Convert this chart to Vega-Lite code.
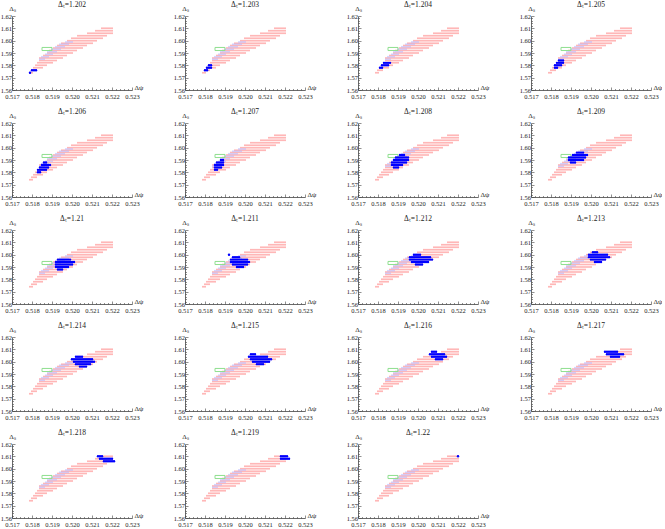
{
"$schema":"https://vega.github.io/schema/vega-lite/v6.json",
"padding":0,
"background":"white",
"columns":4,
"spacing":{"row":33,"column":53},
"bounds":"flush",
"datasets":{
"box":[{"p1":0.5185,"p2":0.519,"s1":1.592,"s2":1.5945}],
"pink":[
{"p":0.5179,"s":1.574},{"p":0.518,"s":1.574},
{"p":0.518,"s":1.576},{"p":0.5181,"s":1.576},{"p":0.5182,"s":1.576},
{"p":0.5181,"s":1.578},{"p":0.5182,"s":1.578},{"p":0.5183,"s":1.578},{"p":0.5184,"s":1.578},{"p":0.5185,"s":1.578},
{"p":0.5182,"s":1.58},{"p":0.5183,"s":1.58},{"p":0.5184,"s":1.58},{"p":0.5185,"s":1.58},{"p":0.5186,"s":1.58},{"p":0.5187,"s":1.58},
{"p":0.5183,"s":1.582},{"p":0.5184,"s":1.582},{"p":0.5185,"s":1.582},{"p":0.5186,"s":1.582},{"p":0.5187,"s":1.582},{"p":0.5188,"s":1.582},{"p":0.5189,"s":1.582},{"p":0.519,"s":1.582},
{"p":0.5184,"s":1.584},{"p":0.5185,"s":1.584},{"p":0.5186,"s":1.584},{"p":0.5187,"s":1.584},{"p":0.5188,"s":1.584},{"p":0.5189,"s":1.584},{"p":0.519,"s":1.584},{"p":0.5191,"s":1.584},{"p":0.5192,"s":1.584},
{"p":0.5184,"s":1.586},{"p":0.5185,"s":1.586},{"p":0.5186,"s":1.586},{"p":0.5187,"s":1.586},{"p":0.5188,"s":1.586},{"p":0.5189,"s":1.586},{"p":0.519,"s":1.586},{"p":0.5191,"s":1.586},{"p":0.5192,"s":1.586},{"p":0.5193,"s":1.586},{"p":0.5194,"s":1.586},{"p":0.5195,"s":1.586},
{"p":0.5186,"s":1.588},{"p":0.5187,"s":1.588},{"p":0.5188,"s":1.588},{"p":0.5189,"s":1.588},{"p":0.519,"s":1.588},{"p":0.5191,"s":1.588},{"p":0.5192,"s":1.588},{"p":0.5193,"s":1.588},{"p":0.5194,"s":1.588},{"p":0.5195,"s":1.588},{"p":0.5196,"s":1.588},{"p":0.5197,"s":1.588},
{"p":0.5188,"s":1.59},{"p":0.5189,"s":1.59},{"p":0.519,"s":1.59},{"p":0.5191,"s":1.59},{"p":0.5192,"s":1.59},{"p":0.5193,"s":1.59},{"p":0.5194,"s":1.59},{"p":0.5195,"s":1.59},{"p":0.5196,"s":1.59},{"p":0.5197,"s":1.59},{"p":0.5198,"s":1.59},{"p":0.5199,"s":1.59},{"p":0.52,"s":1.59},
{"p":0.5189,"s":1.592},{"p":0.519,"s":1.592},{"p":0.5191,"s":1.592},{"p":0.5192,"s":1.592},{"p":0.5193,"s":1.592},{"p":0.5194,"s":1.592},{"p":0.5195,"s":1.592},{"p":0.5196,"s":1.592},{"p":0.5197,"s":1.592},{"p":0.5198,"s":1.592},{"p":0.5199,"s":1.592},{"p":0.52,"s":1.592},{"p":0.5201,"s":1.592},{"p":0.5202,"s":1.592},
{"p":0.5191,"s":1.594},{"p":0.5192,"s":1.594},{"p":0.5193,"s":1.594},{"p":0.5194,"s":1.594},{"p":0.5195,"s":1.594},{"p":0.5196,"s":1.594},{"p":0.5197,"s":1.594},{"p":0.5198,"s":1.594},{"p":0.5199,"s":1.594},{"p":0.52,"s":1.594},{"p":0.5201,"s":1.594},{"p":0.5202,"s":1.594},{"p":0.5203,"s":1.594},{"p":0.5204,"s":1.594},{"p":0.5205,"s":1.594},
{"p":0.5193,"s":1.596},{"p":0.5194,"s":1.596},{"p":0.5195,"s":1.596},{"p":0.5196,"s":1.596},{"p":0.5197,"s":1.596},{"p":0.5198,"s":1.596},{"p":0.5199,"s":1.596},{"p":0.52,"s":1.596},{"p":0.5201,"s":1.596},{"p":0.5202,"s":1.596},{"p":0.5203,"s":1.596},{"p":0.5204,"s":1.596},{"p":0.5205,"s":1.596},{"p":0.5206,"s":1.596},{"p":0.5207,"s":1.596},
{"p":0.5195,"s":1.598},{"p":0.5196,"s":1.598},{"p":0.5197,"s":1.598},{"p":0.5198,"s":1.598},{"p":0.5199,"s":1.598},{"p":0.52,"s":1.598},{"p":0.5201,"s":1.598},{"p":0.5202,"s":1.598},{"p":0.5203,"s":1.598},{"p":0.5204,"s":1.598},{"p":0.5205,"s":1.598},{"p":0.5206,"s":1.598},{"p":0.5207,"s":1.598},{"p":0.5208,"s":1.598},{"p":0.5209,"s":1.598},{"p":0.521,"s":1.598},
{"p":0.5198,"s":1.6},{"p":0.5199,"s":1.6},{"p":0.52,"s":1.6},{"p":0.5201,"s":1.6},{"p":0.5202,"s":1.6},{"p":0.5203,"s":1.6},{"p":0.5204,"s":1.6},{"p":0.5205,"s":1.6},{"p":0.5206,"s":1.6},{"p":0.5207,"s":1.6},{"p":0.5208,"s":1.6},{"p":0.5209,"s":1.6},{"p":0.521,"s":1.6},{"p":0.5211,"s":1.6},{"p":0.5212,"s":1.6},
{"p":0.52,"s":1.602},{"p":0.5201,"s":1.602},{"p":0.5202,"s":1.602},{"p":0.5203,"s":1.602},{"p":0.5204,"s":1.602},{"p":0.5205,"s":1.602},{"p":0.5206,"s":1.602},{"p":0.5207,"s":1.602},{"p":0.5208,"s":1.602},{"p":0.5209,"s":1.602},{"p":0.521,"s":1.602},{"p":0.5211,"s":1.602},{"p":0.5212,"s":1.602},{"p":0.5213,"s":1.602},{"p":0.5214,"s":1.602},{"p":0.5215,"s":1.602},
{"p":0.5203,"s":1.604},{"p":0.5204,"s":1.604},{"p":0.5205,"s":1.604},{"p":0.5206,"s":1.604},{"p":0.5207,"s":1.604},{"p":0.5208,"s":1.604},{"p":0.5209,"s":1.604},{"p":0.521,"s":1.604},{"p":0.5211,"s":1.604},{"p":0.5212,"s":1.604},{"p":0.5213,"s":1.604},{"p":0.5214,"s":1.604},{"p":0.5215,"s":1.604},{"p":0.5216,"s":1.604},{"p":0.5217,"s":1.604},
{"p":0.5208,"s":1.606},{"p":0.5209,"s":1.606},{"p":0.521,"s":1.606},{"p":0.5211,"s":1.606},{"p":0.5212,"s":1.606},{"p":0.5213,"s":1.606},{"p":0.5214,"s":1.606},{"p":0.5215,"s":1.606},{"p":0.5216,"s":1.606},{"p":0.5217,"s":1.606},{"p":0.5218,"s":1.606},{"p":0.5219,"s":1.606},{"p":0.522,"s":1.606},
{"p":0.5212,"s":1.608},{"p":0.5213,"s":1.608},{"p":0.5214,"s":1.608},{"p":0.5215,"s":1.608},{"p":0.5216,"s":1.608},{"p":0.5217,"s":1.608},{"p":0.5218,"s":1.608},{"p":0.5219,"s":1.608},{"p":0.522,"s":1.608},
{"p":0.5215,"s":1.61},{"p":0.5216,"s":1.61},{"p":0.5217,"s":1.61},{"p":0.5218,"s":1.61},{"p":0.5219,"s":1.61},{"p":0.522,"s":1.61}
],
"lav":[
{"p":0.5184,"s":1.585},{"p":0.5185,"s":1.585},{"p":0.5186,"s":1.585},
{"p":0.5185,"s":1.587},{"p":0.5186,"s":1.587},{"p":0.5187,"s":1.587},{"p":0.5188,"s":1.587},
{"p":0.5187,"s":1.589},{"p":0.5188,"s":1.589},{"p":0.5189,"s":1.589},{"p":0.519,"s":1.589},
{"p":0.5188,"s":1.591},{"p":0.5189,"s":1.591},{"p":0.519,"s":1.591},{"p":0.5191,"s":1.591},{"p":0.5192,"s":1.591},
{"p":0.519,"s":1.593},{"p":0.5191,"s":1.593},{"p":0.5192,"s":1.593},{"p":0.5193,"s":1.593},{"p":0.5194,"s":1.593},
{"p":0.5192,"s":1.595},{"p":0.5193,"s":1.595},{"p":0.5194,"s":1.595},{"p":0.5195,"s":1.595},{"p":0.5196,"s":1.595},
{"p":0.5194,"s":1.597},{"p":0.5195,"s":1.597},{"p":0.5196,"s":1.597},{"p":0.5197,"s":1.597},{"p":0.5198,"s":1.597},
{"p":0.5197,"s":1.599},{"p":0.5198,"s":1.599},{"p":0.5199,"s":1.599},{"p":0.52,"s":1.599}
],
"blue":[
{"t":1.202,"p":0.5179,"s":1.574},{"t":1.202,"p":0.518,"s":1.576},{"t":1.202,"p":0.5181,"s":1.576},{"t":1.202,"p":0.5182,"s":1.576},
{"t":1.203,"p":0.518,"s":1.576},{"t":1.203,"p":0.5181,"s":1.576},{"t":1.203,"p":0.5181,"s":1.578},{"t":1.203,"p":0.5182,"s":1.578},{"t":1.203,"p":0.5183,"s":1.578},{"t":1.203,"p":0.5182,"s":1.58},{"t":1.203,"p":0.5183,"s":1.58},
{"t":1.204,"p":0.5181,"s":1.578},{"t":1.204,"p":0.5182,"s":1.578},{"t":1.204,"p":0.5182,"s":1.58},{"t":1.204,"p":0.5183,"s":1.58},{"t":1.204,"p":0.5184,"s":1.58},{"t":1.204,"p":0.5185,"s":1.58},{"t":1.204,"p":0.5183,"s":1.582},{"t":1.204,"p":0.5184,"s":1.582},{"t":1.204,"p":0.5185,"s":1.582},{"t":1.204,"p":0.5186,"s":1.582},
{"t":1.205,"p":0.5182,"s":1.578},{"t":1.205,"p":0.5183,"s":1.578},{"t":1.205,"p":0.5182,"s":1.58},{"t":1.205,"p":0.5183,"s":1.58},{"t":1.205,"p":0.5184,"s":1.58},{"t":1.205,"p":0.5185,"s":1.58},{"t":1.205,"p":0.5183,"s":1.582},{"t":1.205,"p":0.5184,"s":1.582},{"t":1.205,"p":0.5185,"s":1.582},{"t":1.205,"p":0.5186,"s":1.582},{"t":1.205,"p":0.5184,"s":1.584},{"t":1.205,"p":0.5185,"s":1.584},{"t":1.205,"p":0.5186,"s":1.584},
{"t":1.206,"p":0.5183,"s":1.58},{"t":1.206,"p":0.5184,"s":1.58},{"t":1.206,"p":0.5183,"s":1.582},{"t":1.206,"p":0.5184,"s":1.582},{"t":1.206,"p":0.5185,"s":1.582},{"t":1.206,"p":0.5186,"s":1.582},{"t":1.206,"p":0.5187,"s":1.582},{"t":1.206,"p":0.5184,"s":1.584},{"t":1.206,"p":0.5185,"s":1.584},{"t":1.206,"p":0.5186,"s":1.584},{"t":1.206,"p":0.5187,"s":1.584},{"t":1.206,"p":0.5188,"s":1.584},{"t":1.206,"p":0.5185,"s":1.586},{"t":1.206,"p":0.5186,"s":1.586},{"t":1.206,"p":0.5187,"s":1.586},{"t":1.206,"p":0.5188,"s":1.586},{"t":1.206,"p":0.5189,"s":1.586},{"t":1.206,"p":0.5186,"s":1.588},{"t":1.206,"p":0.5187,"s":1.588},
{"t":1.207,"p":0.5185,"s":1.582},{"t":1.207,"p":0.5186,"s":1.582},{"t":1.207,"p":0.5185,"s":1.584},{"t":1.207,"p":0.5186,"s":1.584},{"t":1.207,"p":0.5187,"s":1.584},{"t":1.207,"p":0.5188,"s":1.584},{"t":1.207,"p":0.5185,"s":1.586},{"t":1.207,"p":0.5186,"s":1.586},{"t":1.207,"p":0.5187,"s":1.586},{"t":1.207,"p":0.5188,"s":1.586},{"t":1.207,"p":0.5189,"s":1.586},{"t":1.207,"p":0.5186,"s":1.588},{"t":1.207,"p":0.5187,"s":1.588},{"t":1.207,"p":0.5188,"s":1.588},{"t":1.207,"p":0.5189,"s":1.588},{"t":1.207,"p":0.5188,"s":1.59},{"t":1.207,"p":0.5189,"s":1.59},
{"t":1.208,"p":0.5188,"s":1.584},{"t":1.208,"p":0.5189,"s":1.584},{"t":1.208,"p":0.519,"s":1.584},{"t":1.208,"p":0.5187,"s":1.586},{"t":1.208,"p":0.5188,"s":1.586},{"t":1.208,"p":0.5189,"s":1.586},{"t":1.208,"p":0.519,"s":1.586},{"t":1.208,"p":0.5191,"s":1.586},{"t":1.208,"p":0.5192,"s":1.586},{"t":1.208,"p":0.5187,"s":1.588},{"t":1.208,"p":0.5188,"s":1.588},{"t":1.208,"p":0.5189,"s":1.588},{"t":1.208,"p":0.519,"s":1.588},{"t":1.208,"p":0.5191,"s":1.588},{"t":1.208,"p":0.5192,"s":1.588},{"t":1.208,"p":0.5193,"s":1.588},{"t":1.208,"p":0.5194,"s":1.588},{"t":1.208,"p":0.5188,"s":1.59},{"t":1.208,"p":0.5189,"s":1.59},{"t":1.208,"p":0.519,"s":1.59},{"t":1.208,"p":0.5191,"s":1.59},{"t":1.208,"p":0.5192,"s":1.59},{"t":1.208,"p":0.5193,"s":1.59},{"t":1.208,"p":0.5194,"s":1.59},{"t":1.208,"p":0.5195,"s":1.59},{"t":1.208,"p":0.5189,"s":1.592},{"t":1.208,"p":0.519,"s":1.592},{"t":1.208,"p":0.5191,"s":1.592},{"t":1.208,"p":0.5192,"s":1.592},{"t":1.208,"p":0.5193,"s":1.592},{"t":1.208,"p":0.5194,"s":1.592},{"t":1.208,"p":0.5195,"s":1.592},{"t":1.208,"p":0.5191,"s":1.594},{"t":1.208,"p":0.5192,"s":1.594},{"t":1.208,"p":0.5193,"s":1.594},
{"t":1.209,"p":0.519,"s":1.588},{"t":1.209,"p":0.5191,"s":1.588},{"t":1.209,"p":0.5192,"s":1.588},{"t":1.209,"p":0.5189,"s":1.59},{"t":1.209,"p":0.519,"s":1.59},{"t":1.209,"p":0.5191,"s":1.59},{"t":1.209,"p":0.5192,"s":1.59},{"t":1.209,"p":0.5193,"s":1.59},{"t":1.209,"p":0.5194,"s":1.59},{"t":1.209,"p":0.5195,"s":1.59},{"t":1.209,"p":0.5196,"s":1.59},{"t":1.209,"p":0.5189,"s":1.592},{"t":1.209,"p":0.519,"s":1.592},{"t":1.209,"p":0.5191,"s":1.592},{"t":1.209,"p":0.5192,"s":1.592},{"t":1.209,"p":0.5193,"s":1.592},{"t":1.209,"p":0.5194,"s":1.592},{"t":1.209,"p":0.5195,"s":1.592},{"t":1.209,"p":0.5196,"s":1.592},{"t":1.209,"p":0.5197,"s":1.592},{"t":1.209,"p":0.5191,"s":1.594},{"t":1.209,"p":0.5192,"s":1.594},{"t":1.209,"p":0.5193,"s":1.594},{"t":1.209,"p":0.5194,"s":1.594},{"t":1.209,"p":0.5195,"s":1.594},{"t":1.209,"p":0.5196,"s":1.594},{"t":1.209,"p":0.5197,"s":1.594},{"t":1.209,"p":0.5198,"s":1.594},{"t":1.209,"p":0.5193,"s":1.596},{"t":1.209,"p":0.5194,"s":1.596},{"t":1.209,"p":0.5195,"s":1.596},{"t":1.209,"p":0.5196,"s":1.596},
{"t":1.21,"p":0.5193,"s":1.588},{"t":1.21,"p":0.5194,"s":1.588},{"t":1.21,"p":0.5195,"s":1.588},{"t":1.21,"p":0.5192,"s":1.59},{"t":1.21,"p":0.5193,"s":1.59},{"t":1.21,"p":0.5194,"s":1.59},{"t":1.21,"p":0.5195,"s":1.59},{"t":1.21,"p":0.5196,"s":1.59},{"t":1.21,"p":0.5197,"s":1.59},{"t":1.21,"p":0.5198,"s":1.59},{"t":1.21,"p":0.5192,"s":1.592},{"t":1.21,"p":0.5193,"s":1.592},{"t":1.21,"p":0.5194,"s":1.592},{"t":1.21,"p":0.5195,"s":1.592},{"t":1.21,"p":0.5196,"s":1.592},{"t":1.21,"p":0.5197,"s":1.592},{"t":1.21,"p":0.5198,"s":1.592},{"t":1.21,"p":0.5199,"s":1.592},{"t":1.21,"p":0.52,"s":1.592},{"t":1.21,"p":0.5192,"s":1.594},{"t":1.21,"p":0.5193,"s":1.594},{"t":1.21,"p":0.5194,"s":1.594},{"t":1.21,"p":0.5195,"s":1.594},{"t":1.21,"p":0.5196,"s":1.594},{"t":1.21,"p":0.5197,"s":1.594},{"t":1.21,"p":0.5198,"s":1.594},{"t":1.21,"p":0.5199,"s":1.594},{"t":1.21,"p":0.52,"s":1.594},{"t":1.21,"p":0.5201,"s":1.594},{"t":1.21,"p":0.5193,"s":1.596},{"t":1.21,"p":0.5194,"s":1.596},{"t":1.21,"p":0.5195,"s":1.596},{"t":1.21,"p":0.5196,"s":1.596},{"t":1.21,"p":0.5197,"s":1.596},{"t":1.21,"p":0.5198,"s":1.596},{"t":1.21,"p":0.5199,"s":1.596},
{"t":1.211,"p":0.5196,"s":1.59},{"t":1.211,"p":0.5197,"s":1.59},{"t":1.211,"p":0.5198,"s":1.59},{"t":1.211,"p":0.5199,"s":1.59},{"t":1.211,"p":0.5194,"s":1.592},{"t":1.211,"p":0.5195,"s":1.592},{"t":1.211,"p":0.5196,"s":1.592},{"t":1.211,"p":0.5197,"s":1.592},{"t":1.211,"p":0.5198,"s":1.592},{"t":1.211,"p":0.5199,"s":1.592},{"t":1.211,"p":0.52,"s":1.592},{"t":1.211,"p":0.5201,"s":1.592},{"t":1.211,"p":0.5193,"s":1.594},{"t":1.211,"p":0.5194,"s":1.594},{"t":1.211,"p":0.5195,"s":1.594},{"t":1.211,"p":0.5196,"s":1.594},{"t":1.211,"p":0.5197,"s":1.594},{"t":1.211,"p":0.5198,"s":1.594},{"t":1.211,"p":0.5199,"s":1.594},{"t":1.211,"p":0.52,"s":1.594},{"t":1.211,"p":0.5201,"s":1.594},{"t":1.211,"p":0.5202,"s":1.594},{"t":1.211,"p":0.5193,"s":1.596},{"t":1.211,"p":0.5194,"s":1.596},{"t":1.211,"p":0.5195,"s":1.596},{"t":1.211,"p":0.5196,"s":1.596},{"t":1.211,"p":0.5197,"s":1.596},{"t":1.211,"p":0.5198,"s":1.596},{"t":1.211,"p":0.5199,"s":1.596},{"t":1.211,"p":0.52,"s":1.596},{"t":1.211,"p":0.5201,"s":1.596},{"t":1.211,"p":0.5194,"s":1.598},{"t":1.211,"p":0.5195,"s":1.598},{"t":1.211,"p":0.5196,"s":1.598},{"t":1.211,"p":0.5197,"s":1.598},{"t":1.211,"p":0.5192,"s":1.6},
{"t":1.212,"p":0.5199,"s":1.592},{"t":1.212,"p":0.52,"s":1.592},{"t":1.212,"p":0.5201,"s":1.592},{"t":1.212,"p":0.5202,"s":1.592},{"t":1.212,"p":0.5197,"s":1.594},{"t":1.212,"p":0.5198,"s":1.594},{"t":1.212,"p":0.5199,"s":1.594},{"t":1.212,"p":0.52,"s":1.594},{"t":1.212,"p":0.5201,"s":1.594},{"t":1.212,"p":0.5202,"s":1.594},{"t":1.212,"p":0.5203,"s":1.594},{"t":1.212,"p":0.5204,"s":1.594},{"t":1.212,"p":0.5205,"s":1.594},{"t":1.212,"p":0.5196,"s":1.596},{"t":1.212,"p":0.5197,"s":1.596},{"t":1.212,"p":0.5198,"s":1.596},{"t":1.212,"p":0.5199,"s":1.596},{"t":1.212,"p":0.52,"s":1.596},{"t":1.212,"p":0.5201,"s":1.596},{"t":1.212,"p":0.5202,"s":1.596},{"t":1.212,"p":0.5203,"s":1.596},{"t":1.212,"p":0.5204,"s":1.596},{"t":1.212,"p":0.5205,"s":1.596},{"t":1.212,"p":0.5206,"s":1.596},{"t":1.212,"p":0.5207,"s":1.596},{"t":1.212,"p":0.5196,"s":1.598},{"t":1.212,"p":0.5197,"s":1.598},{"t":1.212,"p":0.5198,"s":1.598},{"t":1.212,"p":0.5199,"s":1.598},{"t":1.212,"p":0.52,"s":1.598},{"t":1.212,"p":0.5201,"s":1.598},{"t":1.212,"p":0.5202,"s":1.598},{"t":1.212,"p":0.5203,"s":1.598},{"t":1.212,"p":0.5204,"s":1.598},{"t":1.212,"p":0.5205,"s":1.598},{"t":1.212,"p":0.5206,"s":1.598},{"t":1.212,"p":0.5198,"s":1.6},{"t":1.212,"p":0.5199,"s":1.6},{"t":1.212,"p":0.52,"s":1.6},{"t":1.212,"p":0.5201,"s":1.6},
{"t":1.213,"p":0.5202,"s":1.594},{"t":1.213,"p":0.5203,"s":1.594},{"t":1.213,"p":0.5204,"s":1.594},{"t":1.213,"p":0.5205,"s":1.594},{"t":1.213,"p":0.52,"s":1.596},{"t":1.213,"p":0.5201,"s":1.596},{"t":1.213,"p":0.5202,"s":1.596},{"t":1.213,"p":0.5203,"s":1.596},{"t":1.213,"p":0.5204,"s":1.596},{"t":1.213,"p":0.5205,"s":1.596},{"t":1.213,"p":0.5206,"s":1.596},{"t":1.213,"p":0.5207,"s":1.596},{"t":1.213,"p":0.5199,"s":1.598},{"t":1.213,"p":0.52,"s":1.598},{"t":1.213,"p":0.5201,"s":1.598},{"t":1.213,"p":0.5202,"s":1.598},{"t":1.213,"p":0.5203,"s":1.598},{"t":1.213,"p":0.5204,"s":1.598},{"t":1.213,"p":0.5205,"s":1.598},{"t":1.213,"p":0.5206,"s":1.598},{"t":1.213,"p":0.5207,"s":1.598},{"t":1.213,"p":0.5208,"s":1.598},{"t":1.213,"p":0.5209,"s":1.598},{"t":1.213,"p":0.5199,"s":1.6},{"t":1.213,"p":0.52,"s":1.6},{"t":1.213,"p":0.5201,"s":1.6},{"t":1.213,"p":0.5202,"s":1.6},{"t":1.213,"p":0.5203,"s":1.6},{"t":1.213,"p":0.5204,"s":1.6},{"t":1.213,"p":0.5205,"s":1.6},{"t":1.213,"p":0.5206,"s":1.6},{"t":1.213,"p":0.5207,"s":1.6},{"t":1.213,"p":0.5208,"s":1.6},{"t":1.213,"p":0.5201,"s":1.602},{"t":1.213,"p":0.5202,"s":1.602},{"t":1.213,"p":0.5203,"s":1.602},
{"t":1.214,"p":0.5204,"s":1.596},{"t":1.214,"p":0.5205,"s":1.596},{"t":1.214,"p":0.5206,"s":1.596},{"t":1.214,"p":0.5207,"s":1.596},{"t":1.214,"p":0.5202,"s":1.598},{"t":1.214,"p":0.5203,"s":1.598},{"t":1.214,"p":0.5204,"s":1.598},{"t":1.214,"p":0.5205,"s":1.598},{"t":1.214,"p":0.5206,"s":1.598},{"t":1.214,"p":0.5207,"s":1.598},{"t":1.214,"p":0.5208,"s":1.598},{"t":1.214,"p":0.5209,"s":1.598},{"t":1.214,"p":0.5201,"s":1.6},{"t":1.214,"p":0.5202,"s":1.6},{"t":1.214,"p":0.5203,"s":1.6},{"t":1.214,"p":0.5204,"s":1.6},{"t":1.214,"p":0.5205,"s":1.6},{"t":1.214,"p":0.5206,"s":1.6},{"t":1.214,"p":0.5207,"s":1.6},{"t":1.214,"p":0.5208,"s":1.6},{"t":1.214,"p":0.5209,"s":1.6},{"t":1.214,"p":0.521,"s":1.6},{"t":1.214,"p":0.5211,"s":1.6},{"t":1.214,"p":0.52,"s":1.602},{"t":1.214,"p":0.5201,"s":1.602},{"t":1.214,"p":0.5202,"s":1.602},{"t":1.214,"p":0.5203,"s":1.602},{"t":1.214,"p":0.5204,"s":1.602},{"t":1.214,"p":0.5205,"s":1.602},{"t":1.214,"p":0.5206,"s":1.602},{"t":1.214,"p":0.5207,"s":1.602},{"t":1.214,"p":0.5208,"s":1.602},{"t":1.214,"p":0.5209,"s":1.602},{"t":1.214,"p":0.521,"s":1.602},{"t":1.214,"p":0.5202,"s":1.604},{"t":1.214,"p":0.5203,"s":1.604},{"t":1.214,"p":0.5204,"s":1.604},{"t":1.214,"p":0.5205,"s":1.604},
{"t":1.215,"p":0.5206,"s":1.598},{"t":1.215,"p":0.5207,"s":1.598},{"t":1.215,"p":0.5208,"s":1.598},{"t":1.215,"p":0.5209,"s":1.598},{"t":1.215,"p":0.5204,"s":1.6},{"t":1.215,"p":0.5205,"s":1.6},{"t":1.215,"p":0.5206,"s":1.6},{"t":1.215,"p":0.5207,"s":1.6},{"t":1.215,"p":0.5208,"s":1.6},{"t":1.215,"p":0.5209,"s":1.6},{"t":1.215,"p":0.521,"s":1.6},{"t":1.215,"p":0.5211,"s":1.6},{"t":1.215,"p":0.5212,"s":1.6},{"t":1.215,"p":0.5203,"s":1.602},{"t":1.215,"p":0.5204,"s":1.602},{"t":1.215,"p":0.5205,"s":1.602},{"t":1.215,"p":0.5206,"s":1.602},{"t":1.215,"p":0.5207,"s":1.602},{"t":1.215,"p":0.5208,"s":1.602},{"t":1.215,"p":0.5209,"s":1.602},{"t":1.215,"p":0.521,"s":1.602},{"t":1.215,"p":0.5211,"s":1.602},{"t":1.215,"p":0.5212,"s":1.602},{"t":1.215,"p":0.5213,"s":1.602},{"t":1.215,"p":0.5202,"s":1.604},{"t":1.215,"p":0.5203,"s":1.604},{"t":1.215,"p":0.5204,"s":1.604},{"t":1.215,"p":0.5205,"s":1.604},{"t":1.215,"p":0.5206,"s":1.604},{"t":1.215,"p":0.5207,"s":1.604},{"t":1.215,"p":0.5208,"s":1.604},{"t":1.215,"p":0.5209,"s":1.604},{"t":1.215,"p":0.521,"s":1.604},{"t":1.215,"p":0.5211,"s":1.604},{"t":1.215,"p":0.5203,"s":1.606},{"t":1.215,"p":0.5204,"s":1.606},{"t":1.215,"p":0.5205,"s":1.606},
{"t":1.216,"p":0.5209,"s":1.602},{"t":1.216,"p":0.521,"s":1.602},{"t":1.216,"p":0.5211,"s":1.602},{"t":1.216,"p":0.5212,"s":1.602},{"t":1.216,"p":0.5207,"s":1.604},{"t":1.216,"p":0.5208,"s":1.604},{"t":1.216,"p":0.5209,"s":1.604},{"t":1.216,"p":0.521,"s":1.604},{"t":1.216,"p":0.5211,"s":1.604},{"t":1.216,"p":0.5212,"s":1.604},{"t":1.216,"p":0.5213,"s":1.604},{"t":1.216,"p":0.5214,"s":1.604},{"t":1.216,"p":0.5206,"s":1.606},{"t":1.216,"p":0.5207,"s":1.606},{"t":1.216,"p":0.5208,"s":1.606},{"t":1.216,"p":0.5209,"s":1.606},{"t":1.216,"p":0.521,"s":1.606},{"t":1.216,"p":0.5211,"s":1.606},{"t":1.216,"p":0.5212,"s":1.606},{"t":1.216,"p":0.5213,"s":1.606},{"t":1.216,"p":0.5207,"s":1.608},{"t":1.216,"p":0.5208,"s":1.608},{"t":1.216,"p":0.5209,"s":1.608},
{"t":1.217,"p":0.521,"s":1.604},{"t":1.217,"p":0.5211,"s":1.604},{"t":1.217,"p":0.5212,"s":1.604},{"t":1.217,"p":0.5213,"s":1.604},{"t":1.217,"p":0.5214,"s":1.604},{"t":1.217,"p":0.5208,"s":1.606},{"t":1.217,"p":0.5209,"s":1.606},{"t":1.217,"p":0.521,"s":1.606},{"t":1.217,"p":0.5211,"s":1.606},{"t":1.217,"p":0.5212,"s":1.606},{"t":1.217,"p":0.5213,"s":1.606},{"t":1.217,"p":0.5214,"s":1.606},{"t":1.217,"p":0.5215,"s":1.606},{"t":1.217,"p":0.5216,"s":1.606},{"t":1.217,"p":0.5207,"s":1.608},{"t":1.217,"p":0.5208,"s":1.608},{"t":1.217,"p":0.5209,"s":1.608},{"t":1.217,"p":0.521,"s":1.608},{"t":1.217,"p":0.5211,"s":1.608},{"t":1.217,"p":0.5212,"s":1.608},{"t":1.217,"p":0.5213,"s":1.608},
{"t":1.218,"p":0.5216,"s":1.606},{"t":1.218,"p":0.5217,"s":1.606},{"t":1.218,"p":0.5218,"s":1.606},{"t":1.218,"p":0.5219,"s":1.606},{"t":1.218,"p":0.522,"s":1.606},{"t":1.218,"p":0.5221,"s":1.606},{"t":1.218,"p":0.5214,"s":1.608},{"t":1.218,"p":0.5215,"s":1.608},{"t":1.218,"p":0.5216,"s":1.608},{"t":1.218,"p":0.5217,"s":1.608},{"t":1.218,"p":0.5218,"s":1.608},{"t":1.218,"p":0.5219,"s":1.608},{"t":1.218,"p":0.522,"s":1.608},{"t":1.218,"p":0.5213,"s":1.61},{"t":1.218,"p":0.5214,"s":1.61},{"t":1.218,"p":0.5215,"s":1.61},
{"t":1.219,"p":0.5218,"s":1.608},{"t":1.219,"p":0.5219,"s":1.608},{"t":1.219,"p":0.522,"s":1.608},{"t":1.219,"p":0.5221,"s":1.608},{"t":1.219,"p":0.5222,"s":1.608},{"t":1.219,"p":0.5218,"s":1.61},{"t":1.219,"p":0.5219,"s":1.61},{"t":1.219,"p":0.522,"s":1.61},{"t":1.219,"p":0.5221,"s":1.61},
{"t":1.22,"p":0.522,"s":1.61}
]
},
"concat":[
{"width":120,"height":74,"title":"Δₜ=1.202","layer":[{"data":{"name":"pink"},"mark":{"type":"circle","size":4,"color":"#ff9494","opacity":0.75},"encoding":{"x":{"field":"p","type":"quantitative","scale":{"domain":[0.517,0.523],"nice":false,"zero":false},"axis":{"title":"Δψ","tickCount":30,"labelOverlap":false,"labelFlush":false,"labelPadding":6,"labelExpr":"abs(datum.value*1000-round(datum.value*1000))<0.01?format(datum.value,'.3f'):''","tickSize":{"condition":{"test":"abs(datum.value*1000-round(datum.value*1000))<0.01","value":-3},"value":-1.5}}},"y":{"field":"s","type":"quantitative","scale":{"domain":[1.56,1.62],"nice":false,"zero":false},"axis":{"title":"Δₛ","tickCount":30,"labelOverlap":false,"labelFlush":false,"labelPadding":3.5,"labelExpr":"abs(datum.value*100-round(datum.value*100))<0.01?format(datum.value,'.2f'):''","tickSize":{"condition":{"test":"abs(datum.value*100-round(datum.value*100))<0.01","value":-3},"value":-1.5}}}}},{"data":{"name":"lav"},"mark":{"type":"circle","size":4,"color":"#b0b0ff","opacity":0.6},"encoding":{"x":{"field":"p","type":"quantitative"},"y":{"field":"s","type":"quantitative"}}},{"data":{"name":"box"},"mark":{"type":"rect","filled":false,"color":"#8fdf8f","strokeWidth":1},"encoding":{"x":{"field":"p1","type":"quantitative"},"x2":{"field":"p2"},"y":{"field":"s1","type":"quantitative"},"y2":{"field":"s2"}}},{"data":{"name":"blue"},"transform":[{"filter":"datum.t==1.202"}],"mark":{"type":"circle","size":6,"color":"#0000ff","opacity":1},"encoding":{"x":{"field":"p","type":"quantitative"},"y":{"field":"s","type":"quantitative"}}}]},
{"width":120,"height":74,"title":"Δₜ=1.203","layer":[{"data":{"name":"pink"},"mark":{"type":"circle","size":4,"color":"#ff9494","opacity":0.75},"encoding":{"x":{"field":"p","type":"quantitative","scale":{"domain":[0.517,0.523],"nice":false,"zero":false},"axis":{"title":"Δψ","tickCount":30,"labelOverlap":false,"labelFlush":false,"labelPadding":6,"labelExpr":"abs(datum.value*1000-round(datum.value*1000))<0.01?format(datum.value,'.3f'):''","tickSize":{"condition":{"test":"abs(datum.value*1000-round(datum.value*1000))<0.01","value":-3},"value":-1.5}}},"y":{"field":"s","type":"quantitative","scale":{"domain":[1.56,1.62],"nice":false,"zero":false},"axis":{"title":"Δₛ","tickCount":30,"labelOverlap":false,"labelFlush":false,"labelPadding":3.5,"labelExpr":"abs(datum.value*100-round(datum.value*100))<0.01?format(datum.value,'.2f'):''","tickSize":{"condition":{"test":"abs(datum.value*100-round(datum.value*100))<0.01","value":-3},"value":-1.5}}}}},{"data":{"name":"lav"},"mark":{"type":"circle","size":4,"color":"#b0b0ff","opacity":0.6},"encoding":{"x":{"field":"p","type":"quantitative"},"y":{"field":"s","type":"quantitative"}}},{"data":{"name":"box"},"mark":{"type":"rect","filled":false,"color":"#8fdf8f","strokeWidth":1},"encoding":{"x":{"field":"p1","type":"quantitative"},"x2":{"field":"p2"},"y":{"field":"s1","type":"quantitative"},"y2":{"field":"s2"}}},{"data":{"name":"blue"},"transform":[{"filter":"datum.t==1.203"}],"mark":{"type":"circle","size":6,"color":"#0000ff","opacity":1},"encoding":{"x":{"field":"p","type":"quantitative"},"y":{"field":"s","type":"quantitative"}}}]},
{"width":120,"height":74,"title":"Δₜ=1.204","layer":[{"data":{"name":"pink"},"mark":{"type":"circle","size":4,"color":"#ff9494","opacity":0.75},"encoding":{"x":{"field":"p","type":"quantitative","scale":{"domain":[0.517,0.523],"nice":false,"zero":false},"axis":{"title":"Δψ","tickCount":30,"labelOverlap":false,"labelFlush":false,"labelPadding":6,"labelExpr":"abs(datum.value*1000-round(datum.value*1000))<0.01?format(datum.value,'.3f'):''","tickSize":{"condition":{"test":"abs(datum.value*1000-round(datum.value*1000))<0.01","value":-3},"value":-1.5}}},"y":{"field":"s","type":"quantitative","scale":{"domain":[1.56,1.62],"nice":false,"zero":false},"axis":{"title":"Δₛ","tickCount":30,"labelOverlap":false,"labelFlush":false,"labelPadding":3.5,"labelExpr":"abs(datum.value*100-round(datum.value*100))<0.01?format(datum.value,'.2f'):''","tickSize":{"condition":{"test":"abs(datum.value*100-round(datum.value*100))<0.01","value":-3},"value":-1.5}}}}},{"data":{"name":"lav"},"mark":{"type":"circle","size":4,"color":"#b0b0ff","opacity":0.6},"encoding":{"x":{"field":"p","type":"quantitative"},"y":{"field":"s","type":"quantitative"}}},{"data":{"name":"box"},"mark":{"type":"rect","filled":false,"color":"#8fdf8f","strokeWidth":1},"encoding":{"x":{"field":"p1","type":"quantitative"},"x2":{"field":"p2"},"y":{"field":"s1","type":"quantitative"},"y2":{"field":"s2"}}},{"data":{"name":"blue"},"transform":[{"filter":"datum.t==1.204"}],"mark":{"type":"circle","size":6,"color":"#0000ff","opacity":1},"encoding":{"x":{"field":"p","type":"quantitative"},"y":{"field":"s","type":"quantitative"}}}]},
{"width":120,"height":74,"title":"Δₜ=1.205","layer":[{"data":{"name":"pink"},"mark":{"type":"circle","size":4,"color":"#ff9494","opacity":0.75},"encoding":{"x":{"field":"p","type":"quantitative","scale":{"domain":[0.517,0.523],"nice":false,"zero":false},"axis":{"title":"Δψ","tickCount":30,"labelOverlap":false,"labelFlush":false,"labelPadding":6,"labelExpr":"abs(datum.value*1000-round(datum.value*1000))<0.01?format(datum.value,'.3f'):''","tickSize":{"condition":{"test":"abs(datum.value*1000-round(datum.value*1000))<0.01","value":-3},"value":-1.5}}},"y":{"field":"s","type":"quantitative","scale":{"domain":[1.56,1.62],"nice":false,"zero":false},"axis":{"title":"Δₛ","tickCount":30,"labelOverlap":false,"labelFlush":false,"labelPadding":3.5,"labelExpr":"abs(datum.value*100-round(datum.value*100))<0.01?format(datum.value,'.2f'):''","tickSize":{"condition":{"test":"abs(datum.value*100-round(datum.value*100))<0.01","value":-3},"value":-1.5}}}}},{"data":{"name":"lav"},"mark":{"type":"circle","size":4,"color":"#b0b0ff","opacity":0.6},"encoding":{"x":{"field":"p","type":"quantitative"},"y":{"field":"s","type":"quantitative"}}},{"data":{"name":"box"},"mark":{"type":"rect","filled":false,"color":"#8fdf8f","strokeWidth":1},"encoding":{"x":{"field":"p1","type":"quantitative"},"x2":{"field":"p2"},"y":{"field":"s1","type":"quantitative"},"y2":{"field":"s2"}}},{"data":{"name":"blue"},"transform":[{"filter":"datum.t==1.205"}],"mark":{"type":"circle","size":6,"color":"#0000ff","opacity":1},"encoding":{"x":{"field":"p","type":"quantitative"},"y":{"field":"s","type":"quantitative"}}}]},
{"width":120,"height":74,"title":"Δₜ=1.206","layer":[{"data":{"name":"pink"},"mark":{"type":"circle","size":4,"color":"#ff9494","opacity":0.75},"encoding":{"x":{"field":"p","type":"quantitative","scale":{"domain":[0.517,0.523],"nice":false,"zero":false},"axis":{"title":"Δψ","tickCount":30,"labelOverlap":false,"labelFlush":false,"labelPadding":6,"labelExpr":"abs(datum.value*1000-round(datum.value*1000))<0.01?format(datum.value,'.3f'):''","tickSize":{"condition":{"test":"abs(datum.value*1000-round(datum.value*1000))<0.01","value":-3},"value":-1.5}}},"y":{"field":"s","type":"quantitative","scale":{"domain":[1.56,1.62],"nice":false,"zero":false},"axis":{"title":"Δₛ","tickCount":30,"labelOverlap":false,"labelFlush":false,"labelPadding":3.5,"labelExpr":"abs(datum.value*100-round(datum.value*100))<0.01?format(datum.value,'.2f'):''","tickSize":{"condition":{"test":"abs(datum.value*100-round(datum.value*100))<0.01","value":-3},"value":-1.5}}}}},{"data":{"name":"lav"},"mark":{"type":"circle","size":4,"color":"#b0b0ff","opacity":0.6},"encoding":{"x":{"field":"p","type":"quantitative"},"y":{"field":"s","type":"quantitative"}}},{"data":{"name":"box"},"mark":{"type":"rect","filled":false,"color":"#8fdf8f","strokeWidth":1},"encoding":{"x":{"field":"p1","type":"quantitative"},"x2":{"field":"p2"},"y":{"field":"s1","type":"quantitative"},"y2":{"field":"s2"}}},{"data":{"name":"blue"},"transform":[{"filter":"datum.t==1.206"}],"mark":{"type":"circle","size":6,"color":"#0000ff","opacity":1},"encoding":{"x":{"field":"p","type":"quantitative"},"y":{"field":"s","type":"quantitative"}}}]},
{"width":120,"height":74,"title":"Δₜ=1.207","layer":[{"data":{"name":"pink"},"mark":{"type":"circle","size":4,"color":"#ff9494","opacity":0.75},"encoding":{"x":{"field":"p","type":"quantitative","scale":{"domain":[0.517,0.523],"nice":false,"zero":false},"axis":{"title":"Δψ","tickCount":30,"labelOverlap":false,"labelFlush":false,"labelPadding":6,"labelExpr":"abs(datum.value*1000-round(datum.value*1000))<0.01?format(datum.value,'.3f'):''","tickSize":{"condition":{"test":"abs(datum.value*1000-round(datum.value*1000))<0.01","value":-3},"value":-1.5}}},"y":{"field":"s","type":"quantitative","scale":{"domain":[1.56,1.62],"nice":false,"zero":false},"axis":{"title":"Δₛ","tickCount":30,"labelOverlap":false,"labelFlush":false,"labelPadding":3.5,"labelExpr":"abs(datum.value*100-round(datum.value*100))<0.01?format(datum.value,'.2f'):''","tickSize":{"condition":{"test":"abs(datum.value*100-round(datum.value*100))<0.01","value":-3},"value":-1.5}}}}},{"data":{"name":"lav"},"mark":{"type":"circle","size":4,"color":"#b0b0ff","opacity":0.6},"encoding":{"x":{"field":"p","type":"quantitative"},"y":{"field":"s","type":"quantitative"}}},{"data":{"name":"box"},"mark":{"type":"rect","filled":false,"color":"#8fdf8f","strokeWidth":1},"encoding":{"x":{"field":"p1","type":"quantitative"},"x2":{"field":"p2"},"y":{"field":"s1","type":"quantitative"},"y2":{"field":"s2"}}},{"data":{"name":"blue"},"transform":[{"filter":"datum.t==1.207"}],"mark":{"type":"circle","size":6,"color":"#0000ff","opacity":1},"encoding":{"x":{"field":"p","type":"quantitative"},"y":{"field":"s","type":"quantitative"}}}]},
{"width":120,"height":74,"title":"Δₜ=1.208","layer":[{"data":{"name":"pink"},"mark":{"type":"circle","size":4,"color":"#ff9494","opacity":0.75},"encoding":{"x":{"field":"p","type":"quantitative","scale":{"domain":[0.517,0.523],"nice":false,"zero":false},"axis":{"title":"Δψ","tickCount":30,"labelOverlap":false,"labelFlush":false,"labelPadding":6,"labelExpr":"abs(datum.value*1000-round(datum.value*1000))<0.01?format(datum.value,'.3f'):''","tickSize":{"condition":{"test":"abs(datum.value*1000-round(datum.value*1000))<0.01","value":-3},"value":-1.5}}},"y":{"field":"s","type":"quantitative","scale":{"domain":[1.56,1.62],"nice":false,"zero":false},"axis":{"title":"Δₛ","tickCount":30,"labelOverlap":false,"labelFlush":false,"labelPadding":3.5,"labelExpr":"abs(datum.value*100-round(datum.value*100))<0.01?format(datum.value,'.2f'):''","tickSize":{"condition":{"test":"abs(datum.value*100-round(datum.value*100))<0.01","value":-3},"value":-1.5}}}}},{"data":{"name":"lav"},"mark":{"type":"circle","size":4,"color":"#b0b0ff","opacity":0.6},"encoding":{"x":{"field":"p","type":"quantitative"},"y":{"field":"s","type":"quantitative"}}},{"data":{"name":"box"},"mark":{"type":"rect","filled":false,"color":"#8fdf8f","strokeWidth":1},"encoding":{"x":{"field":"p1","type":"quantitative"},"x2":{"field":"p2"},"y":{"field":"s1","type":"quantitative"},"y2":{"field":"s2"}}},{"data":{"name":"blue"},"transform":[{"filter":"datum.t==1.208"}],"mark":{"type":"circle","size":6,"color":"#0000ff","opacity":1},"encoding":{"x":{"field":"p","type":"quantitative"},"y":{"field":"s","type":"quantitative"}}}]},
{"width":120,"height":74,"title":"Δₜ=1.209","layer":[{"data":{"name":"pink"},"mark":{"type":"circle","size":4,"color":"#ff9494","opacity":0.75},"encoding":{"x":{"field":"p","type":"quantitative","scale":{"domain":[0.517,0.523],"nice":false,"zero":false},"axis":{"title":"Δψ","tickCount":30,"labelOverlap":false,"labelFlush":false,"labelPadding":6,"labelExpr":"abs(datum.value*1000-round(datum.value*1000))<0.01?format(datum.value,'.3f'):''","tickSize":{"condition":{"test":"abs(datum.value*1000-round(datum.value*1000))<0.01","value":-3},"value":-1.5}}},"y":{"field":"s","type":"quantitative","scale":{"domain":[1.56,1.62],"nice":false,"zero":false},"axis":{"title":"Δₛ","tickCount":30,"labelOverlap":false,"labelFlush":false,"labelPadding":3.5,"labelExpr":"abs(datum.value*100-round(datum.value*100))<0.01?format(datum.value,'.2f'):''","tickSize":{"condition":{"test":"abs(datum.value*100-round(datum.value*100))<0.01","value":-3},"value":-1.5}}}}},{"data":{"name":"lav"},"mark":{"type":"circle","size":4,"color":"#b0b0ff","opacity":0.6},"encoding":{"x":{"field":"p","type":"quantitative"},"y":{"field":"s","type":"quantitative"}}},{"data":{"name":"box"},"mark":{"type":"rect","filled":false,"color":"#8fdf8f","strokeWidth":1},"encoding":{"x":{"field":"p1","type":"quantitative"},"x2":{"field":"p2"},"y":{"field":"s1","type":"quantitative"},"y2":{"field":"s2"}}},{"data":{"name":"blue"},"transform":[{"filter":"datum.t==1.209"}],"mark":{"type":"circle","size":6,"color":"#0000ff","opacity":1},"encoding":{"x":{"field":"p","type":"quantitative"},"y":{"field":"s","type":"quantitative"}}}]},
{"width":120,"height":74,"title":"Δₜ=1.21","layer":[{"data":{"name":"pink"},"mark":{"type":"circle","size":4,"color":"#ff9494","opacity":0.75},"encoding":{"x":{"field":"p","type":"quantitative","scale":{"domain":[0.517,0.523],"nice":false,"zero":false},"axis":{"title":"Δψ","tickCount":30,"labelOverlap":false,"labelFlush":false,"labelPadding":6,"labelExpr":"abs(datum.value*1000-round(datum.value*1000))<0.01?format(datum.value,'.3f'):''","tickSize":{"condition":{"test":"abs(datum.value*1000-round(datum.value*1000))<0.01","value":-3},"value":-1.5}}},"y":{"field":"s","type":"quantitative","scale":{"domain":[1.56,1.62],"nice":false,"zero":false},"axis":{"title":"Δₛ","tickCount":30,"labelOverlap":false,"labelFlush":false,"labelPadding":3.5,"labelExpr":"abs(datum.value*100-round(datum.value*100))<0.01?format(datum.value,'.2f'):''","tickSize":{"condition":{"test":"abs(datum.value*100-round(datum.value*100))<0.01","value":-3},"value":-1.5}}}}},{"data":{"name":"lav"},"mark":{"type":"circle","size":4,"color":"#b0b0ff","opacity":0.6},"encoding":{"x":{"field":"p","type":"quantitative"},"y":{"field":"s","type":"quantitative"}}},{"data":{"name":"box"},"mark":{"type":"rect","filled":false,"color":"#8fdf8f","strokeWidth":1},"encoding":{"x":{"field":"p1","type":"quantitative"},"x2":{"field":"p2"},"y":{"field":"s1","type":"quantitative"},"y2":{"field":"s2"}}},{"data":{"name":"blue"},"transform":[{"filter":"datum.t==1.21"}],"mark":{"type":"circle","size":6,"color":"#0000ff","opacity":1},"encoding":{"x":{"field":"p","type":"quantitative"},"y":{"field":"s","type":"quantitative"}}}]},
{"width":120,"height":74,"title":"Δₜ=1.211","layer":[{"data":{"name":"pink"},"mark":{"type":"circle","size":4,"color":"#ff9494","opacity":0.75},"encoding":{"x":{"field":"p","type":"quantitative","scale":{"domain":[0.517,0.523],"nice":false,"zero":false},"axis":{"title":"Δψ","tickCount":30,"labelOverlap":false,"labelFlush":false,"labelPadding":6,"labelExpr":"abs(datum.value*1000-round(datum.value*1000))<0.01?format(datum.value,'.3f'):''","tickSize":{"condition":{"test":"abs(datum.value*1000-round(datum.value*1000))<0.01","value":-3},"value":-1.5}}},"y":{"field":"s","type":"quantitative","scale":{"domain":[1.56,1.62],"nice":false,"zero":false},"axis":{"title":"Δₛ","tickCount":30,"labelOverlap":false,"labelFlush":false,"labelPadding":3.5,"labelExpr":"abs(datum.value*100-round(datum.value*100))<0.01?format(datum.value,'.2f'):''","tickSize":{"condition":{"test":"abs(datum.value*100-round(datum.value*100))<0.01","value":-3},"value":-1.5}}}}},{"data":{"name":"lav"},"mark":{"type":"circle","size":4,"color":"#b0b0ff","opacity":0.6},"encoding":{"x":{"field":"p","type":"quantitative"},"y":{"field":"s","type":"quantitative"}}},{"data":{"name":"box"},"mark":{"type":"rect","filled":false,"color":"#8fdf8f","strokeWidth":1},"encoding":{"x":{"field":"p1","type":"quantitative"},"x2":{"field":"p2"},"y":{"field":"s1","type":"quantitative"},"y2":{"field":"s2"}}},{"data":{"name":"blue"},"transform":[{"filter":"datum.t==1.211"}],"mark":{"type":"circle","size":6,"color":"#0000ff","opacity":1},"encoding":{"x":{"field":"p","type":"quantitative"},"y":{"field":"s","type":"quantitative"}}}]},
{"width":120,"height":74,"title":"Δₜ=1.212","layer":[{"data":{"name":"pink"},"mark":{"type":"circle","size":4,"color":"#ff9494","opacity":0.75},"encoding":{"x":{"field":"p","type":"quantitative","scale":{"domain":[0.517,0.523],"nice":false,"zero":false},"axis":{"title":"Δψ","tickCount":30,"labelOverlap":false,"labelFlush":false,"labelPadding":6,"labelExpr":"abs(datum.value*1000-round(datum.value*1000))<0.01?format(datum.value,'.3f'):''","tickSize":{"condition":{"test":"abs(datum.value*1000-round(datum.value*1000))<0.01","value":-3},"value":-1.5}}},"y":{"field":"s","type":"quantitative","scale":{"domain":[1.56,1.62],"nice":false,"zero":false},"axis":{"title":"Δₛ","tickCount":30,"labelOverlap":false,"labelFlush":false,"labelPadding":3.5,"labelExpr":"abs(datum.value*100-round(datum.value*100))<0.01?format(datum.value,'.2f'):''","tickSize":{"condition":{"test":"abs(datum.value*100-round(datum.value*100))<0.01","value":-3},"value":-1.5}}}}},{"data":{"name":"lav"},"mark":{"type":"circle","size":4,"color":"#b0b0ff","opacity":0.6},"encoding":{"x":{"field":"p","type":"quantitative"},"y":{"field":"s","type":"quantitative"}}},{"data":{"name":"box"},"mark":{"type":"rect","filled":false,"color":"#8fdf8f","strokeWidth":1},"encoding":{"x":{"field":"p1","type":"quantitative"},"x2":{"field":"p2"},"y":{"field":"s1","type":"quantitative"},"y2":{"field":"s2"}}},{"data":{"name":"blue"},"transform":[{"filter":"datum.t==1.212"}],"mark":{"type":"circle","size":6,"color":"#0000ff","opacity":1},"encoding":{"x":{"field":"p","type":"quantitative"},"y":{"field":"s","type":"quantitative"}}}]},
{"width":120,"height":74,"title":"Δₜ=1.213","layer":[{"data":{"name":"pink"},"mark":{"type":"circle","size":4,"color":"#ff9494","opacity":0.75},"encoding":{"x":{"field":"p","type":"quantitative","scale":{"domain":[0.517,0.523],"nice":false,"zero":false},"axis":{"title":"Δψ","tickCount":30,"labelOverlap":false,"labelFlush":false,"labelPadding":6,"labelExpr":"abs(datum.value*1000-round(datum.value*1000))<0.01?format(datum.value,'.3f'):''","tickSize":{"condition":{"test":"abs(datum.value*1000-round(datum.value*1000))<0.01","value":-3},"value":-1.5}}},"y":{"field":"s","type":"quantitative","scale":{"domain":[1.56,1.62],"nice":false,"zero":false},"axis":{"title":"Δₛ","tickCount":30,"labelOverlap":false,"labelFlush":false,"labelPadding":3.5,"labelExpr":"abs(datum.value*100-round(datum.value*100))<0.01?format(datum.value,'.2f'):''","tickSize":{"condition":{"test":"abs(datum.value*100-round(datum.value*100))<0.01","value":-3},"value":-1.5}}}}},{"data":{"name":"lav"},"mark":{"type":"circle","size":4,"color":"#b0b0ff","opacity":0.6},"encoding":{"x":{"field":"p","type":"quantitative"},"y":{"field":"s","type":"quantitative"}}},{"data":{"name":"box"},"mark":{"type":"rect","filled":false,"color":"#8fdf8f","strokeWidth":1},"encoding":{"x":{"field":"p1","type":"quantitative"},"x2":{"field":"p2"},"y":{"field":"s1","type":"quantitative"},"y2":{"field":"s2"}}},{"data":{"name":"blue"},"transform":[{"filter":"datum.t==1.213"}],"mark":{"type":"circle","size":6,"color":"#0000ff","opacity":1},"encoding":{"x":{"field":"p","type":"quantitative"},"y":{"field":"s","type":"quantitative"}}}]},
{"width":120,"height":74,"title":"Δₜ=1.214","layer":[{"data":{"name":"pink"},"mark":{"type":"circle","size":4,"color":"#ff9494","opacity":0.75},"encoding":{"x":{"field":"p","type":"quantitative","scale":{"domain":[0.517,0.523],"nice":false,"zero":false},"axis":{"title":"Δψ","tickCount":30,"labelOverlap":false,"labelFlush":false,"labelPadding":6,"labelExpr":"abs(datum.value*1000-round(datum.value*1000))<0.01?format(datum.value,'.3f'):''","tickSize":{"condition":{"test":"abs(datum.value*1000-round(datum.value*1000))<0.01","value":-3},"value":-1.5}}},"y":{"field":"s","type":"quantitative","scale":{"domain":[1.56,1.62],"nice":false,"zero":false},"axis":{"title":"Δₛ","tickCount":30,"labelOverlap":false,"labelFlush":false,"labelPadding":3.5,"labelExpr":"abs(datum.value*100-round(datum.value*100))<0.01?format(datum.value,'.2f'):''","tickSize":{"condition":{"test":"abs(datum.value*100-round(datum.value*100))<0.01","value":-3},"value":-1.5}}}}},{"data":{"name":"lav"},"mark":{"type":"circle","size":4,"color":"#b0b0ff","opacity":0.6},"encoding":{"x":{"field":"p","type":"quantitative"},"y":{"field":"s","type":"quantitative"}}},{"data":{"name":"box"},"mark":{"type":"rect","filled":false,"color":"#8fdf8f","strokeWidth":1},"encoding":{"x":{"field":"p1","type":"quantitative"},"x2":{"field":"p2"},"y":{"field":"s1","type":"quantitative"},"y2":{"field":"s2"}}},{"data":{"name":"blue"},"transform":[{"filter":"datum.t==1.214"}],"mark":{"type":"circle","size":6,"color":"#0000ff","opacity":1},"encoding":{"x":{"field":"p","type":"quantitative"},"y":{"field":"s","type":"quantitative"}}}]},
{"width":120,"height":74,"title":"Δₜ=1.215","layer":[{"data":{"name":"pink"},"mark":{"type":"circle","size":4,"color":"#ff9494","opacity":0.75},"encoding":{"x":{"field":"p","type":"quantitative","scale":{"domain":[0.517,0.523],"nice":false,"zero":false},"axis":{"title":"Δψ","tickCount":30,"labelOverlap":false,"labelFlush":false,"labelPadding":6,"labelExpr":"abs(datum.value*1000-round(datum.value*1000))<0.01?format(datum.value,'.3f'):''","tickSize":{"condition":{"test":"abs(datum.value*1000-round(datum.value*1000))<0.01","value":-3},"value":-1.5}}},"y":{"field":"s","type":"quantitative","scale":{"domain":[1.56,1.62],"nice":false,"zero":false},"axis":{"title":"Δₛ","tickCount":30,"labelOverlap":false,"labelFlush":false,"labelPadding":3.5,"labelExpr":"abs(datum.value*100-round(datum.value*100))<0.01?format(datum.value,'.2f'):''","tickSize":{"condition":{"test":"abs(datum.value*100-round(datum.value*100))<0.01","value":-3},"value":-1.5}}}}},{"data":{"name":"lav"},"mark":{"type":"circle","size":4,"color":"#b0b0ff","opacity":0.6},"encoding":{"x":{"field":"p","type":"quantitative"},"y":{"field":"s","type":"quantitative"}}},{"data":{"name":"box"},"mark":{"type":"rect","filled":false,"color":"#8fdf8f","strokeWidth":1},"encoding":{"x":{"field":"p1","type":"quantitative"},"x2":{"field":"p2"},"y":{"field":"s1","type":"quantitative"},"y2":{"field":"s2"}}},{"data":{"name":"blue"},"transform":[{"filter":"datum.t==1.215"}],"mark":{"type":"circle","size":6,"color":"#0000ff","opacity":1},"encoding":{"x":{"field":"p","type":"quantitative"},"y":{"field":"s","type":"quantitative"}}}]},
{"width":120,"height":74,"title":"Δₜ=1.216","layer":[{"data":{"name":"pink"},"mark":{"type":"circle","size":4,"color":"#ff9494","opacity":0.75},"encoding":{"x":{"field":"p","type":"quantitative","scale":{"domain":[0.517,0.523],"nice":false,"zero":false},"axis":{"title":"Δψ","tickCount":30,"labelOverlap":false,"labelFlush":false,"labelPadding":6,"labelExpr":"abs(datum.value*1000-round(datum.value*1000))<0.01?format(datum.value,'.3f'):''","tickSize":{"condition":{"test":"abs(datum.value*1000-round(datum.value*1000))<0.01","value":-3},"value":-1.5}}},"y":{"field":"s","type":"quantitative","scale":{"domain":[1.56,1.62],"nice":false,"zero":false},"axis":{"title":"Δₛ","tickCount":30,"labelOverlap":false,"labelFlush":false,"labelPadding":3.5,"labelExpr":"abs(datum.value*100-round(datum.value*100))<0.01?format(datum.value,'.2f'):''","tickSize":{"condition":{"test":"abs(datum.value*100-round(datum.value*100))<0.01","value":-3},"value":-1.5}}}}},{"data":{"name":"lav"},"mark":{"type":"circle","size":4,"color":"#b0b0ff","opacity":0.6},"encoding":{"x":{"field":"p","type":"quantitative"},"y":{"field":"s","type":"quantitative"}}},{"data":{"name":"box"},"mark":{"type":"rect","filled":false,"color":"#8fdf8f","strokeWidth":1},"encoding":{"x":{"field":"p1","type":"quantitative"},"x2":{"field":"p2"},"y":{"field":"s1","type":"quantitative"},"y2":{"field":"s2"}}},{"data":{"name":"blue"},"transform":[{"filter":"datum.t==1.216"}],"mark":{"type":"circle","size":6,"color":"#0000ff","opacity":1},"encoding":{"x":{"field":"p","type":"quantitative"},"y":{"field":"s","type":"quantitative"}}}]},
{"width":120,"height":74,"title":"Δₜ=1.217","layer":[{"data":{"name":"pink"},"mark":{"type":"circle","size":4,"color":"#ff9494","opacity":0.75},"encoding":{"x":{"field":"p","type":"quantitative","scale":{"domain":[0.517,0.523],"nice":false,"zero":false},"axis":{"title":"Δψ","tickCount":30,"labelOverlap":false,"labelFlush":false,"labelPadding":6,"labelExpr":"abs(datum.value*1000-round(datum.value*1000))<0.01?format(datum.value,'.3f'):''","tickSize":{"condition":{"test":"abs(datum.value*1000-round(datum.value*1000))<0.01","value":-3},"value":-1.5}}},"y":{"field":"s","type":"quantitative","scale":{"domain":[1.56,1.62],"nice":false,"zero":false},"axis":{"title":"Δₛ","tickCount":30,"labelOverlap":false,"labelFlush":false,"labelPadding":3.5,"labelExpr":"abs(datum.value*100-round(datum.value*100))<0.01?format(datum.value,'.2f'):''","tickSize":{"condition":{"test":"abs(datum.value*100-round(datum.value*100))<0.01","value":-3},"value":-1.5}}}}},{"data":{"name":"lav"},"mark":{"type":"circle","size":4,"color":"#b0b0ff","opacity":0.6},"encoding":{"x":{"field":"p","type":"quantitative"},"y":{"field":"s","type":"quantitative"}}},{"data":{"name":"box"},"mark":{"type":"rect","filled":false,"color":"#8fdf8f","strokeWidth":1},"encoding":{"x":{"field":"p1","type":"quantitative"},"x2":{"field":"p2"},"y":{"field":"s1","type":"quantitative"},"y2":{"field":"s2"}}},{"data":{"name":"blue"},"transform":[{"filter":"datum.t==1.217"}],"mark":{"type":"circle","size":6,"color":"#0000ff","opacity":1},"encoding":{"x":{"field":"p","type":"quantitative"},"y":{"field":"s","type":"quantitative"}}}]},
{"width":120,"height":74,"title":"Δₜ=1.218","layer":[{"data":{"name":"pink"},"mark":{"type":"circle","size":4,"color":"#ff9494","opacity":0.75},"encoding":{"x":{"field":"p","type":"quantitative","scale":{"domain":[0.517,0.523],"nice":false,"zero":false},"axis":{"title":"Δψ","tickCount":30,"labelOverlap":false,"labelFlush":false,"labelPadding":6,"labelExpr":"abs(datum.value*1000-round(datum.value*1000))<0.01?format(datum.value,'.3f'):''","tickSize":{"condition":{"test":"abs(datum.value*1000-round(datum.value*1000))<0.01","value":-3},"value":-1.5}}},"y":{"field":"s","type":"quantitative","scale":{"domain":[1.56,1.62],"nice":false,"zero":false},"axis":{"title":"Δₛ","tickCount":30,"labelOverlap":false,"labelFlush":false,"labelPadding":3.5,"labelExpr":"abs(datum.value*100-round(datum.value*100))<0.01?format(datum.value,'.2f'):''","tickSize":{"condition":{"test":"abs(datum.value*100-round(datum.value*100))<0.01","value":-3},"value":-1.5}}}}},{"data":{"name":"lav"},"mark":{"type":"circle","size":4,"color":"#b0b0ff","opacity":0.6},"encoding":{"x":{"field":"p","type":"quantitative"},"y":{"field":"s","type":"quantitative"}}},{"data":{"name":"box"},"mark":{"type":"rect","filled":false,"color":"#8fdf8f","strokeWidth":1},"encoding":{"x":{"field":"p1","type":"quantitative"},"x2":{"field":"p2"},"y":{"field":"s1","type":"quantitative"},"y2":{"field":"s2"}}},{"data":{"name":"blue"},"transform":[{"filter":"datum.t==1.218"}],"mark":{"type":"circle","size":6,"color":"#0000ff","opacity":1},"encoding":{"x":{"field":"p","type":"quantitative"},"y":{"field":"s","type":"quantitative"}}}]},
{"width":120,"height":74,"title":"Δₜ=1.219","layer":[{"data":{"name":"pink"},"mark":{"type":"circle","size":4,"color":"#ff9494","opacity":0.75},"encoding":{"x":{"field":"p","type":"quantitative","scale":{"domain":[0.517,0.523],"nice":false,"zero":false},"axis":{"title":"Δψ","tickCount":30,"labelOverlap":false,"labelFlush":false,"labelPadding":6,"labelExpr":"abs(datum.value*1000-round(datum.value*1000))<0.01?format(datum.value,'.3f'):''","tickSize":{"condition":{"test":"abs(datum.value*1000-round(datum.value*1000))<0.01","value":-3},"value":-1.5}}},"y":{"field":"s","type":"quantitative","scale":{"domain":[1.56,1.62],"nice":false,"zero":false},"axis":{"title":"Δₛ","tickCount":30,"labelOverlap":false,"labelFlush":false,"labelPadding":3.5,"labelExpr":"abs(datum.value*100-round(datum.value*100))<0.01?format(datum.value,'.2f'):''","tickSize":{"condition":{"test":"abs(datum.value*100-round(datum.value*100))<0.01","value":-3},"value":-1.5}}}}},{"data":{"name":"lav"},"mark":{"type":"circle","size":4,"color":"#b0b0ff","opacity":0.6},"encoding":{"x":{"field":"p","type":"quantitative"},"y":{"field":"s","type":"quantitative"}}},{"data":{"name":"box"},"mark":{"type":"rect","filled":false,"color":"#8fdf8f","strokeWidth":1},"encoding":{"x":{"field":"p1","type":"quantitative"},"x2":{"field":"p2"},"y":{"field":"s1","type":"quantitative"},"y2":{"field":"s2"}}},{"data":{"name":"blue"},"transform":[{"filter":"datum.t==1.219"}],"mark":{"type":"circle","size":6,"color":"#0000ff","opacity":1},"encoding":{"x":{"field":"p","type":"quantitative"},"y":{"field":"s","type":"quantitative"}}}]},
{"width":120,"height":74,"title":"Δₜ=1.22","layer":[{"data":{"name":"pink"},"mark":{"type":"circle","size":4,"color":"#ff9494","opacity":0.75},"encoding":{"x":{"field":"p","type":"quantitative","scale":{"domain":[0.517,0.523],"nice":false,"zero":false},"axis":{"title":"Δψ","tickCount":30,"labelOverlap":false,"labelFlush":false,"labelPadding":6,"labelExpr":"abs(datum.value*1000-round(datum.value*1000))<0.01?format(datum.value,'.3f'):''","tickSize":{"condition":{"test":"abs(datum.value*1000-round(datum.value*1000))<0.01","value":-3},"value":-1.5}}},"y":{"field":"s","type":"quantitative","scale":{"domain":[1.56,1.62],"nice":false,"zero":false},"axis":{"title":"Δₛ","tickCount":30,"labelOverlap":false,"labelFlush":false,"labelPadding":3.5,"labelExpr":"abs(datum.value*100-round(datum.value*100))<0.01?format(datum.value,'.2f'):''","tickSize":{"condition":{"test":"abs(datum.value*100-round(datum.value*100))<0.01","value":-3},"value":-1.5}}}}},{"data":{"name":"lav"},"mark":{"type":"circle","size":4,"color":"#b0b0ff","opacity":0.6},"encoding":{"x":{"field":"p","type":"quantitative"},"y":{"field":"s","type":"quantitative"}}},{"data":{"name":"box"},"mark":{"type":"rect","filled":false,"color":"#8fdf8f","strokeWidth":1},"encoding":{"x":{"field":"p1","type":"quantitative"},"x2":{"field":"p2"},"y":{"field":"s1","type":"quantitative"},"y2":{"field":"s2"}}},{"data":{"name":"blue"},"transform":[{"filter":"datum.t==1.22"}],"mark":{"type":"circle","size":6,"color":"#0000ff","opacity":1},"encoding":{"x":{"field":"p","type":"quantitative"},"y":{"field":"s","type":"quantitative"}}}]}
],
"config":{
"view":{"stroke":null},
"axis":{"grid":false,"domainColor":"#444","tickColor":"#444","domainWidth":0.8,"tickWidth":0.6,"labelFont":"Liberation Serif","labelFontSize":6.5,"labelColor":"#222","titleFont":"Liberation Serif","titleFontSize":7,"titleFontWeight":"normal","titleColor":"#222"},
"axisX":{"titleX":122,"titleY":-3,"titleAlign":"left","titleBaseline":"middle","titleAngle":0},
"axisY":{"titleX":0,"titleY":-5,"titleAlign":"center","titleBaseline":"bottom","titleAngle":0},
"title":{"font":"Liberation Serif","fontSize":7.5,"fontWeight":"normal","color":"#222","offset":-4,"frame":"group","anchor":"middle"}
}
}
